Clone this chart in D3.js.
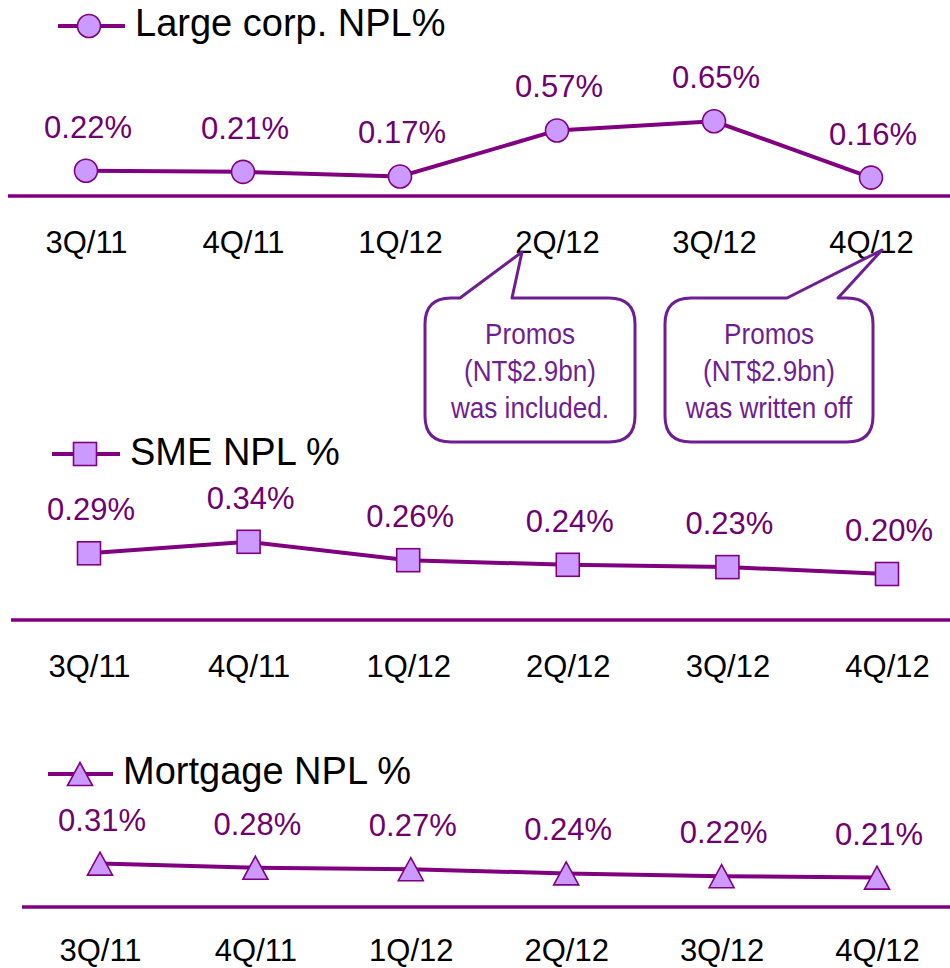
<!DOCTYPE html>
<html>
<head>
<meta charset="utf-8">
<script src="https://cdn.jsdelivr.net/npm/d3@7"></script>
<style>
  body { margin: 0; background: #fff; }
  svg text { font-family: "Liberation Sans", Arial, sans-serif; }
</style>
</head>
<body>
<div id="vis"></div>
<script>
var width = 950,
    height = 968;

// data
var quarters = ["3Q/11", "4Q/11", "1Q/12", "2Q/12", "3Q/12", "4Q/12"];
var largeCorp = [0.22, 0.21, 0.17, 0.57, 0.65, 0.16];
var smeNpl = [0.29, 0.34, 0.26, 0.24, 0.23, 0.20];
var mortgageNpl = [0.31, 0.28, 0.27, 0.24, 0.22, 0.21];
var calloutQuarters = ["2Q/12", "4Q/12"];
var calloutLines = [
  ["Promos", "(NT$2.9bn)", "was included."],
  ["Promos", "(NT$2.9bn)", "was written off"]
];

var lineColor = "#800080",
    markerFill = "#cc99ff",
    labelColor = "#700070",
    noteColor = "#6f1e92";

var svg = d3.select("#vis").append("svg")
    .attr("width", width)
    .attr("height", height);

// one block per series
var panels = [
  { title: "Large corp. NPL%", values: largeCorp, marker: "circle",
    x0: 86, x1: 871, base: 196, k: 115, axisX0: 8, catY: 253,
    legX0: 58, legX1: 125, legMark: 89, legY: 26, titleX: 135, titleY: 36 },
  { title: "SME NPL %", values: smeNpl, marker: "square",
    x0: 89, x1: 887, base: 620, k: 230, axisX0: 11, catY: 677,
    legX0: 52, legX1: 120, legMark: 85, legY: 454, titleX: 130, titleY: 465 },
  { title: "Mortgage NPL %", values: mortgageNpl, marker: "triangle",
    x0: 100, x1: 877, base: 907, k: 140, axisX0: 22, catY: 961,
    legX0: 48, legX1: 113, legMark: 80, legY: 774, titleX: 123, titleY: 784 }
];

function drawMarker(g, type, cx, cy) {
  var m;
  if (type == "circle") {
    m = g.append("circle").attr("cx", cx).attr("cy", cy).attr("r", 11.5);
  } else if (type == "square") {
    m = g.append("rect").attr("x", cx - 11.5).attr("y", cy - 11.5)
      .attr("width", 23).attr("height", 23);
  } else {
    m = g.append("path")
      .attr("d", "M" + cx + "," + (cy - 11.5) + "L" + (cx + 12.5) + "," + (cy + 11.5) +
                 "L" + (cx - 12.5) + "," + (cy + 11.5) + "Z");
  }
  m.attr("fill", markerFill)
    .attr("stroke", lineColor)
    .attr("stroke-width", 1.6);
}

var topX;

panels.forEach(function(p, pi) {
  var g = svg.append("g");

  var x = d3.scalePoint().domain(quarters).range([p.x0, p.x1]);
  var y = d3.scaleLinear().domain([0, 1]).range([p.base, p.base - p.k]);
  if (pi == 0) topX = x;

  // baseline (category axis)
  var axis = d3.axisBottom(x).tickSize(0).tickPadding(0);
  var ag = g.append("g").attr("transform", "translate(0," + p.base + ")").call(axis);
  ag.select(".domain")
    .attr("d", "M" + p.axisX0 + ",0H" + width)
    .attr("stroke", lineColor)
    .attr("stroke-width", 3.5);
  ag.selectAll(".tick text")
    .attr("y", p.catY - p.base)
    .attr("dy", 0)
    .attr("fill", "#000")
    .style("font-size", "31px")
    .style("font-family", "'Liberation Sans', Arial, sans-serif");

  var pts = p.values.map(function(v, i) { return [x(quarters[i]), y(v)]; });

  g.append("path")
    .attr("d", d3.line()(pts))
    .attr("fill", "none")
    .attr("stroke", lineColor)
    .attr("stroke-width", 4);

  pts.forEach(function(pt) { drawMarker(g, p.marker, pt[0], pt[1]); });

  g.selectAll("text.val")
    .data(p.values)
    .enter()
    .append("text")
    .attr("class", "val")
    .attr("x", function(d, i) { return x(quarters[i]) + 2; })
    .attr("y", function(d) { return y(d) - 33; })
    .attr("text-anchor", "middle")
    .attr("fill", labelColor)
    .style("font-size", "31px")
    .text(function(d) { return d.toFixed(2) + "%"; });

  // legend
  g.append("line")
    .attr("x1", p.legX0).attr("x2", p.legX1)
    .attr("y1", p.legY).attr("y2", p.legY)
    .attr("stroke", lineColor)
    .attr("stroke-width", 4);
  drawMarker(g, p.marker, p.legMark, p.legY);
  g.append("text")
    .attr("x", p.titleX)
    .attr("y", p.titleY)
    .attr("fill", "#000")
    .style("font-size", "38px")
    .text(p.title);
});

// callouts pointing at the quarter labels
var callouts = [
  { left: 425, right: 635, b0: 460, b1: 512, tipX: 522, tipY: 252 },
  { left: 665, right: 873, b0: 787, b1: 838, tipX: 882, tipY: 250 }
];
var boxTop = 298, boxBottom = 442, rad = 26;

callouts.forEach(function(c, ci) {
  var l = c.left, r = c.right;
  var path = d3.path();
  path.moveTo(l + rad, boxTop);
  path.lineTo(c.b0, boxTop);
  path.lineTo(c.tipX, c.tipY);
  path.lineTo(c.b1, boxTop);
  path.lineTo(r - rad, boxTop);
  path.quadraticCurveTo(r, boxTop, r, boxTop + rad);
  path.lineTo(r, boxBottom - rad);
  path.quadraticCurveTo(r, boxBottom, r - rad, boxBottom);
  path.lineTo(l + rad, boxBottom);
  path.quadraticCurveTo(l, boxBottom, l, boxBottom - rad);
  path.lineTo(l, boxTop + rad);
  path.quadraticCurveTo(l, boxTop, l + rad, boxTop);
  path.closePath();

  svg.append("path")
    .attr("d", path.toString())
    .attr("fill", "#fff")
    .attr("stroke", noteColor)
    .attr("stroke-width", 3)
    .attr("stroke-linejoin", "round");

  var mid = (l + r) / 2;
  var tg = svg.append("g").attr("transform", "translate(" + mid + ",0) scale(0.9,1)");
  tg.selectAll("text")
    .data(calloutLines[ci])
    .enter()
    .append("text")
    .attr("x", 0)
    .attr("y", function(d, i) { return 344 + i * 37; })
    .attr("text-anchor", "middle")
    .attr("fill", noteColor)
    .style("font-size", "29px")
    .text(function(d) { return d; });
});
</script>
</body>
</html>
